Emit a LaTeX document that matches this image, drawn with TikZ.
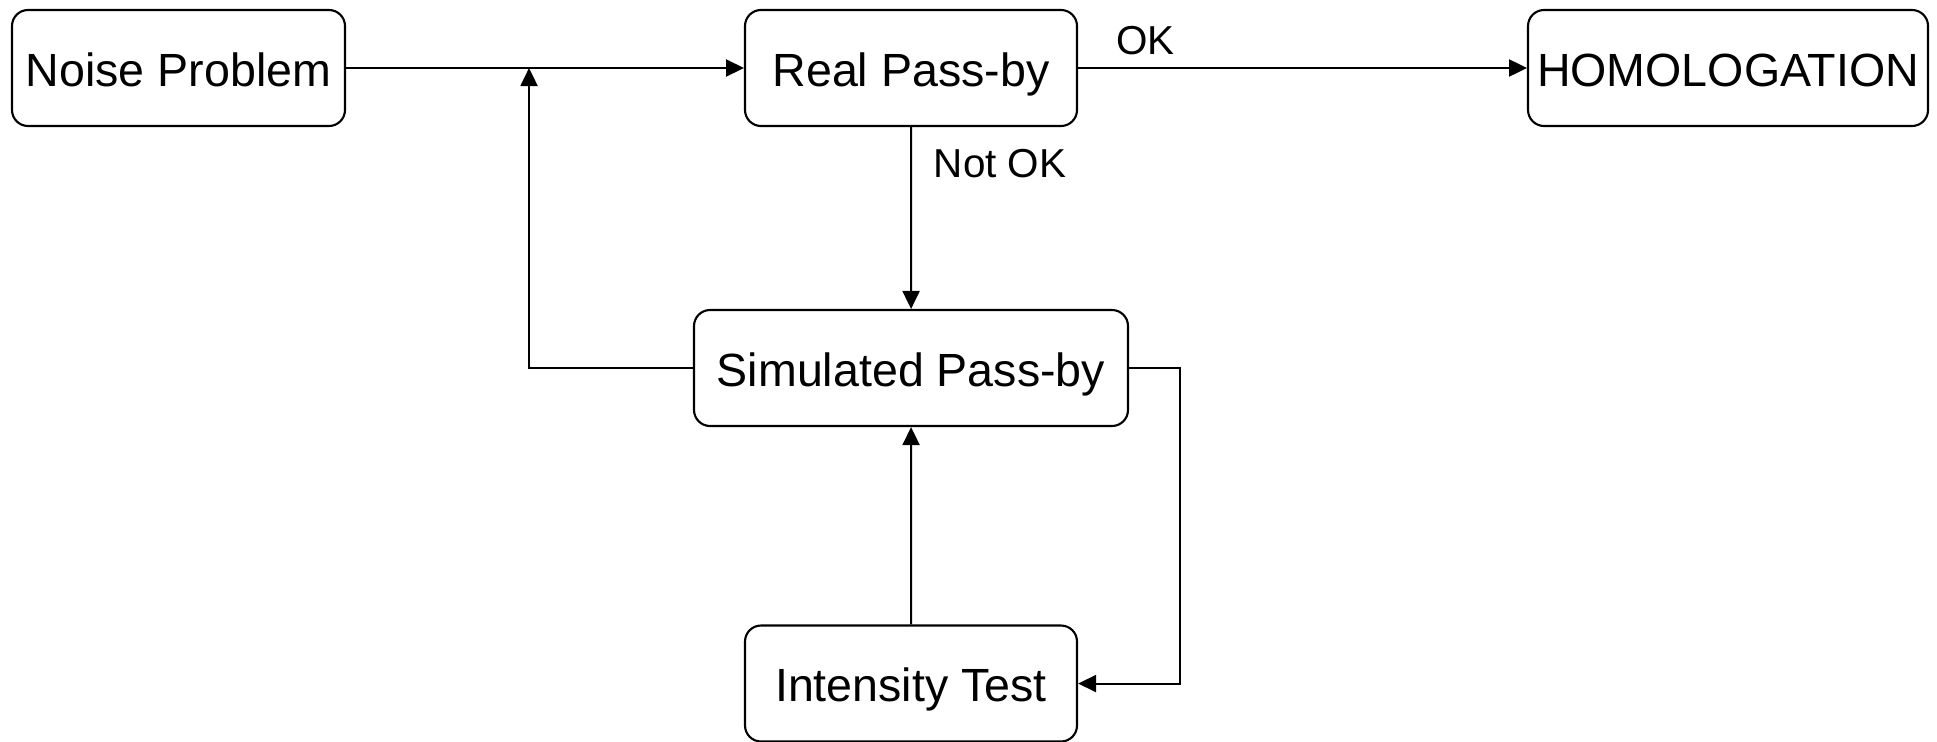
\documentclass[tikz,border=0pt]{standalone}
\usepackage{fontspec}
\setmainfont{Liberation Sans}
\usetikzlibrary{arrows.meta,positioning}
\tikzset{
  stepbox/.style={draw=black, line width=0.6pt, rounded corners=0.16cm,
    minimum height=1.16cm, inner sep=1pt, text height=1.05em, text depth=0.02em,
    font=\fontsize{13.25}{16}\selectfont},
  flow/.style={draw=black, line width=0.6pt, -{Triangle[length=0.18cm, width=0.17cm]}},
  lbl/.style={font=\fontsize{11.5}{14}\selectfont}
}
\begin{document}
\begin{tikzpicture}[scale=0.1]
    \useasboundingbox (0,0) rectangle (193.7,-74.1);
    % boxes
    \node [stepbox, minimum width=3.33cm] (noise) at (17.85,-6.8) {Noise Problem};
    \node [stepbox, minimum width=3.32cm] (real) at (91.1,-6.8) {Real Pass-by};
    \node [stepbox, minimum width=4.0cm] (homo) at (172.8,-6.8) {HOMOLOGATION};
    \node [stepbox, minimum width=4.34cm] (sim) at (91.1,-36.8) {Simulated Pass-by};
    \node [stepbox, minimum width=3.32cm] (test) at (91.1,-68.35) {Intensity Test};
    \coordinate (join) at (52.9,-6.8);
    \coordinate (turn) at (118,-36.8);
    % connectors
    \draw [flow] (noise) -- (real);
    \draw [flow] (real) -- node [lbl, pos=0.15, above, inner sep=0pt, yshift=0.12cm] (ok) {OK} (homo);
    \draw [flow] (real) -- node [lbl, pos=0.2, right, xshift=0.1cm] (notok) {Not OK} (sim);
    \draw [flow] (sim.west) -| (join);
    \draw [flow] (sim.east) -- (turn) |- (test.east);
    \draw [flow] (test) -- (sim);
\end{tikzpicture}
\end{document}
